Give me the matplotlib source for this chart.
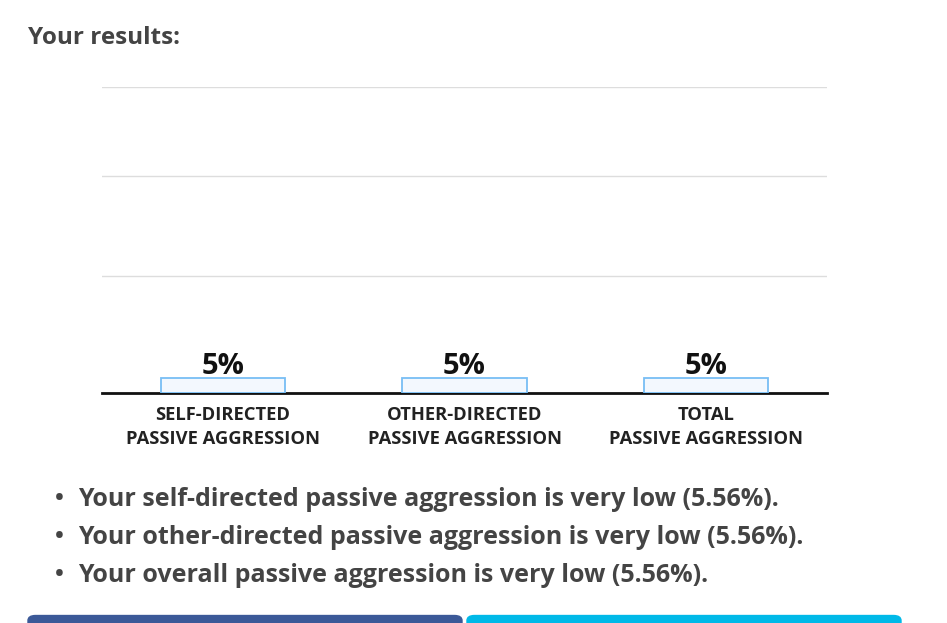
import matplotlib
matplotlib.use('Agg')
import matplotlib.pyplot as plt
from matplotlib.patches import FancyBboxPatch
import numpy as np

plt.rcParams['font.family'] = ['Open Sans', 'DejaVu Sans']

# data
categories = ['SELF-DIRECTED\nPASSIVE AGGRESSION',
              'OTHER-DIRECTED\nPASSIVE AGGRESSION',
              'TOTAL\nPASSIVE AGGRESSION']
values = [5.56, 5.56, 5.56]
bar_labels = ['5%', '5%', '5%']
bullets = ['Your self-directed passive aggression is very low (5.56%).',
           'Your other-directed passive aggression is very low (5.56%).',
           'Your overall passive aggression is very low (5.56%).']

fig = plt.figure(figsize=(9.47, 6.23), dpi=100)
ax = fig.add_axes([102/947, 230/623, 725/947, 306/623])

x = np.arange(len(categories))
ax.bar(x, values, width=0.515, color='#f3f8fe', edgecolor='#78bef5', linewidth=1.3, zorder=3)
for xi, v, lab in zip(x, values, bar_labels):
    ax.annotate(lab, (xi, v), xytext=(0, -2.5), textcoords='offset points',
                ha='center', va='bottom', fontsize=21, fontweight='bold', color='#111111')

ax.set_xlim(-0.5, 2.5)
ax.set_ylim(0, 110)
ax.set_yticks([42, 78, 110])
ax.grid(axis='y', color='#dddddd', linewidth=1)
ax.set_axisbelow(True)
ax.tick_params(axis='y', length=0, labelleft=False)
ax.set_xticks(x)
ax.set_xticklabels(categories, fontsize=13.2, fontweight='bold', color='#222222', linespacing=1.45)
ax.tick_params(axis='x', length=0, pad=9.5)
for side in ['top', 'left', 'right']:
    ax.spines[side].set_visible(False)
ax.spines['bottom'].set_linewidth(2)
ax.spines['bottom'].set_color('#111111')

fig.text(28/947, 1 - 38/623, 'Your results:', fontsize=17.5, fontweight='bold',
         color='#444444', ha='left', va='center')

for i, b in enumerate(bullets):
    yy = 1 - (499 + 38 * i) / 623
    fig.text(59/947, yy, '\u2022', fontsize=17, fontweight='bold', color='#444444', ha='center', va='center')
    fig.text(78/947, yy, b, fontsize=18, fontweight='bold', color='#444444', ha='left', va='center')

# buttons at bottom
for x0, x1, c in [(28, 462, '#3b5998'), (467, 901, '#00b9e8')]:
    fig.patches.append(FancyBboxPatch((x0/947, -0.02), (x1 - x0)/947, 0.032,
                                      boxstyle='round,pad=0,rounding_size=0.008',
                                      transform=fig.transFigure, color=c))

fig.savefig('out.png', dpi=100)
